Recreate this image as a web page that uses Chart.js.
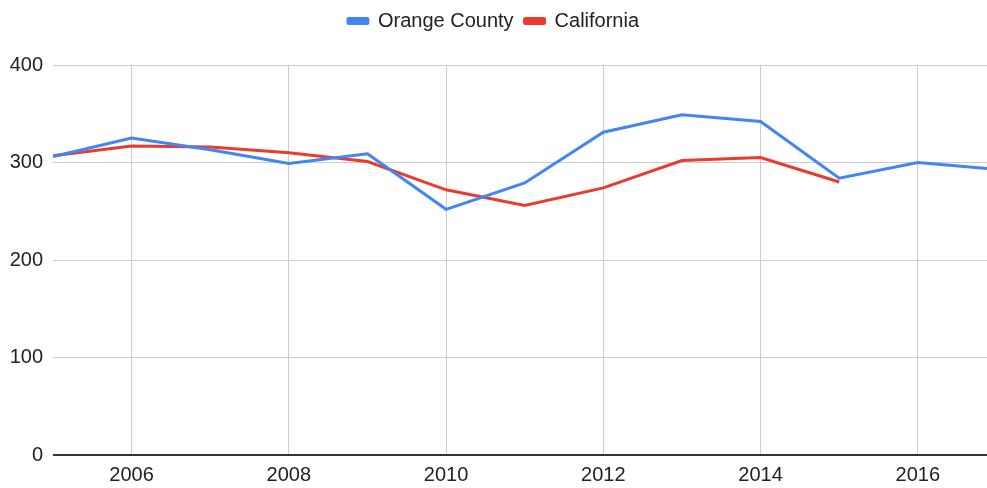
<!DOCTYPE html>
<html>
<head>
<meta charset="utf-8">
<script src="https://cdn.jsdelivr.net/npm/chart.js@4.4.1/dist/chart.umd.min.js"></script>
<style>
  html, body { margin: 0; padding: 0; background: #fff; }
  #wrap { width: 987px; height: 488px; }
</style>
</head>
<body>
<div id="wrap"><canvas id="chart"></canvas></div>
<script>
// years and values
const years = [2005, 2006, 2007, 2008, 2009, 2010, 2011, 2012, 2013, 2014, 2015, 2016, 2017];
const orangeCounty = [306, 325, 313, 299, 309, 252, 279, 331, 349, 342, 284, 300, 293];
const california = [307, 317, 316, 310, 301, 272, 256, 274, 302, 305, 280];
const xTicks = [2006, 2008, 2010, 2012, 2014, 2016];
const yTicks = [0, 100, 200, 300, 400];

const toPoints = (vals) => vals.map((v, i) => ({ x: years[i], y: v }));

const font = { family: 'Liberation Sans', size: 20 };

// legend keeps its items at the top but reserves more room below them
const legendSpace = {
    id: 'legendSpace',
    beforeLayout(chart) {
        const lg = chart.legend;
        if (lg && !lg._patched) {
            const fit = lg.fit;
            lg.fit = function() { fit.call(this); this.height = 65; };
            lg._patched = true;
        }
    }
};

new Chart(document.getElementById('chart'), {
    type: 'line',
    data: {
        datasets: [
            { label: 'Orange County', data: toPoints(orangeCounty), borderColor: '#4285F4', backgroundColor: '#4285F4', borderWidth: 3, pointRadius: 0, tension: 0 },
            { label: 'California', data: toPoints(california), borderColor: '#EA3B2E', backgroundColor: '#EA3B2E', borderWidth: 3, pointRadius: 0, tension: 0 }
        ]
    },
    plugins: [legendSpace],
    options: {
        responsive: true, maintainAspectRatio: false, animation: false,
        layout: { padding: 0 },
        plugins: {
            tooltip: { enabled: false },
            legend: {
                position: 'top',
                labels: { font: font, color: '#222', boxWidth: 20, boxHeight: 5, padding: 11, useBorderRadius: true, borderRadius: 1 }
            }
        },
        scales: {
            x: {
                type: 'linear', min: 2005, max: 2016.88,
                afterBuildTicks: (s) => { s.ticks = xTicks.map(v => ({ value: v })); },
                afterFit: (s) => { s.height = 33; },
                ticks: { font: font, color: '#222', padding: 8, callback: (v) => String(v), maxRotation: 0 },
                grid: { color: '#cccccc', drawTicks: false },
                border: { display: false }
            },
            y: {
                min: 0, max: 400,
                afterBuildTicks: (s) => { s.ticks = yTicks.map(v => ({ value: v })); },
                afterFit: (s) => { s.width = 53; },
                ticks: { font: font, color: '#222', padding: 10 },
                grid: {
                    drawTicks: false,
                    color: (c) => c.tick && c.tick.value === 0 ? '#333333' : '#cccccc',
                    lineWidth: (c) => c.tick && c.tick.value === 0 ? 2 : 1
                },
                border: { display: false }
            }
        }
    }
});
</script>
</body>
</html>
